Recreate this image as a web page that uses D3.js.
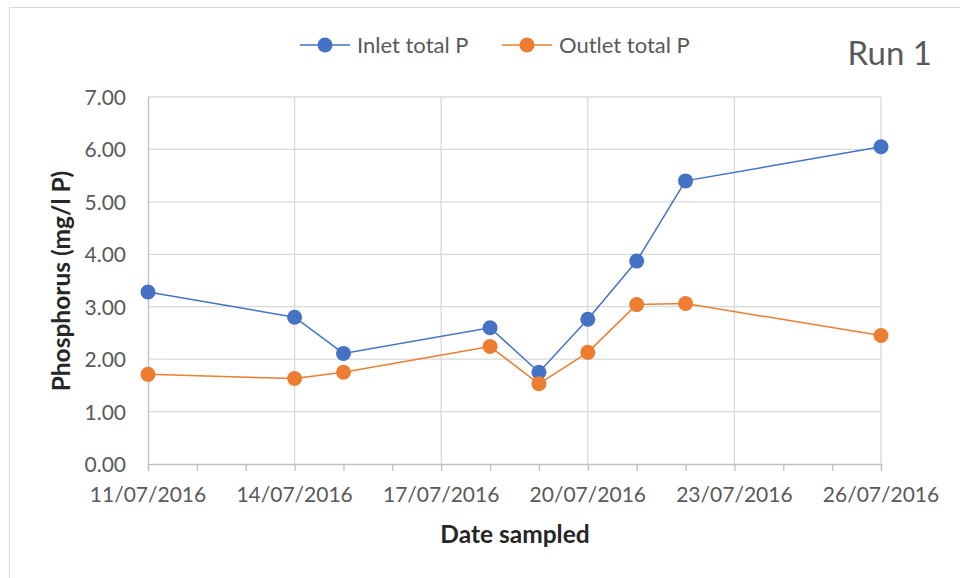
<!DOCTYPE html>
<html lang="en">
<head>
    <meta charset="utf-8">
    <script src="https://cdn.jsdelivr.net/npm/d3@7"></script>
    <style>
        html, body {
            margin: 0;
            padding: 0;
            background: white;
            overflow: hidden;
        }

        body {
            font-family: 'Lato', 'Noto Sans', sans-serif;
        }

        .grid line {
            stroke: #d9d9d9;
            stroke-width: 1.3;
        }

        .tick-label {
            fill: #595959;
            font-size: 21px;
        }

        .axis-title {
            fill: #262626;
            font-size: 24.5px;
            font-weight: bold;
        }
    </style>
</head>
<body>
<svg width="960" height="578"></svg>
<script>
    // sample dates and measured values (mg/l P)
    var sampleDates = ["11/07/2016", "14/07/2016", "15/07/2016", "18/07/2016", "19/07/2016",
        "20/07/2016", "21/07/2016", "22/07/2016", "26/07/2016"];
    var inletP = [3.28, 2.80, 2.11, 2.60, 1.75, 2.76, 3.87, 5.40, 6.05];
    var outletP = [1.71, 1.63, 1.75, 2.24, 1.53, 2.13, 3.04, 3.06, 2.45];

    var seriesNames = ["Inlet total P", "Outlet total P"];
    var seriesColors = ["#4472c4", "#ed7d31"];

    var xLabelDates = ["11/07/2016", "14/07/2016", "17/07/2016", "20/07/2016", "23/07/2016", "26/07/2016"];
    var yTicks = [0, 1, 2, 3, 4, 5, 6, 7];

    var parseDate = d3.timeParse("%d/%m/%Y");
    var fmtDate = d3.timeFormat("%d/%m/%Y");

    var svg = d3.select("svg");

    // chart frame (runs off the right and bottom of the picture)
    svg.append("rect")
        .attr("x", 9.5)
        .attr("y", 7.5)
        .attr("width", 980)
        .attr("height", 600)
        .attr("fill", "none")
        .attr("stroke", "#d9d9d9")
        .attr("stroke-width", 1);

    var plotLeft = 148, plotRight = 881, plotTop = 97, plotBottom = 464;

    var x = d3.scaleTime()
        .domain([parseDate(xLabelDates[0]), parseDate(xLabelDates[xLabelDates.length - 1])])
        .range([plotLeft, plotRight]);

    var y = d3.scaleLinear()
        .domain([0, 7])
        .range([plotBottom, plotTop]);

    var grid = svg.append("g").attr("class", "grid");

    grid.selectAll("line.h")
        .data(yTicks.slice(1))
        .enter().append("line")
        .attr("class", "h")
        .attr("x1", plotLeft).attr("x2", plotRight)
        .attr("y1", function (d) { return y(d); })
        .attr("y2", function (d) { return y(d); });

    grid.selectAll("line.v")
        .data(xLabelDates.slice(1))
        .enter().append("line")
        .attr("class", "v")
        .attr("x1", function (d) { return x(parseDate(d)); })
        .attr("x2", function (d) { return x(parseDate(d)); })
        .attr("y1", plotTop).attr("y2", plotBottom);

    // x axis with a tick every day, labels every third day
    var xAxis = d3.axisBottom(x)
        .ticks(d3.timeDay.every(1))
        .tickSize(7)
        .tickFormat("");

    var xg = svg.append("g")
        .attr("transform", "translate(0," + plotBottom + ")")
        .call(xAxis);
    xg.select(".domain").attr("stroke", "#bfbfbf").attr("stroke-width", 1.3);
    xg.selectAll(".tick line").attr("stroke", "#bfbfbf").attr("stroke-width", 1.3);

    svg.selectAll("text.xlab")
        .data(xLabelDates)
        .enter().append("text")
        .attr("class", "tick-label xlab")
        .attr("x", function (d) { return x(parseDate(d)); })
        .attr("y", 502)
        .attr("text-anchor", "middle")
        .text(function (d) { return fmtDate(parseDate(d)); });

    // y axis
    var yAxis = d3.axisLeft(y)
        .tickValues(yTicks)
        .tickSize(0)
        .tickPadding(22)
        .tickFormat(d3.format(".2f"));

    var yg = svg.append("g")
        .attr("transform", "translate(" + plotLeft + ",0)")
        .call(yAxis);
    yg.attr("font-family", null).attr("font-size", null);
    yg.select(".domain").attr("stroke", "#bfbfbf").attr("stroke-width", 1.3);
    yg.selectAll(".tick text")
        .attr("class", "tick-label")
        .attr("fill", null)
        .attr("dy", "0.36em");

    // axis titles
    svg.append("text")
        .attr("class", "axis-title")
        .attr("x", 515)
        .attr("y", 543)
        .attr("text-anchor", "middle")
        .text("Date sampled");

    svg.append("text")
        .attr("class", "axis-title")
        .attr("transform", "translate(70,281) rotate(-90)")
        .attr("text-anchor", "middle")
        .text("Phosphorus (mg/l P)");

    // series
    var series = [inletP, outletP].map(function (vals, i) {
        return {
            name: seriesNames[i],
            color: seriesColors[i],
            points: vals.map(function (v, j) {
                return {date: parseDate(sampleDates[j]), value: v};
            })
        };
    });

    var line = d3.line()
        .x(function (d) { return x(d.date); })
        .y(function (d) { return y(d.value); });

    var sg = svg.selectAll("g.series")
        .data(series)
        .enter().append("g")
        .attr("class", "series");

    sg.append("path")
        .attr("d", function (d) { return line(d.points); })
        .attr("fill", "none")
        .attr("stroke", function (d) { return d.color; })
        .attr("stroke-width", 1.5);

    sg.selectAll("circle")
        .data(function (d) {
            return d.points.map(function (p) { return {p: p, color: d.color}; });
        })
        .enter().append("circle")
        .attr("cx", function (d) { return x(d.p.date); })
        .attr("cy", function (d) { return y(d.p.value); })
        .attr("r", 7.5)
        .attr("fill", function (d) { return d.color; });

    // legend
    var legend = svg.selectAll("g.legend")
        .data(series)
        .enter().append("g")
        .attr("class", "legend")
        .attr("transform", function (d, i) {
            return "translate(" + (300 + i * 202) + ",45)";
        });

    legend.append("line")
        .attr("x1", 0).attr("x2", 50)
        .attr("stroke", function (d) { return d.color; })
        .attr("stroke-width", 1.5);

    legend.append("circle")
        .attr("cx", 25)
        .attr("r", 7.5)
        .attr("fill", function (d) { return d.color; });

    legend.append("text")
        .attr("x", 57)
        .attr("y", 7.5)
        .attr("fill", "#595959")
        .attr("font-size", "22px")
        .text(function (d) { return d.name; });

    svg.append("text")
        .attr("x", 932)
        .attr("y", 65)
        .attr("text-anchor", "end")
        .attr("fill", "#595959")
        .attr("font-size", "33px")
        .text("Run 1");
</script>
</body>
</html>
